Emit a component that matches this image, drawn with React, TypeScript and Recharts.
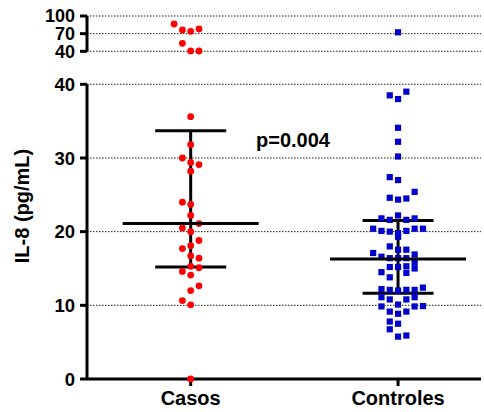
import React from 'react';
import { ScatterChart, Scatter, XAxis, YAxis, CartesianGrid, ErrorBar } from 'recharts';

const categories = ['Casos', 'Controles'];

const casosValues = [
  86.4, 77.9, 76.2, 74.0, 53.6, 40.6, 40.5,
  35.6, 31.8, 30.0, 29.4, 29.1, 28.2, 24.0, 23.7, 22.2, 21.1, 20.5, 20.0,
  18.8, 18.1, 17.7, 16.7, 16.4, 15.3, 15.1, 14.6, 14.1, 12.65, 12.0, 10.65, 10.07, 0,
];
const casosColumns = [
  -2, 1, -1, 0, -1, 0, 1,
  0, 0, -1, 0, 1, 0, -1, 0, 0, 1, -1, 0,
  1, 0, -1, 0, 1, 0, 1, -1, 0, 1, 0, -1, 0, 0,
];

const controlesValues = [
  72.3, 39.0, 38.5, 38.0, 34.1, 32.2, 30.2, 27.4, 27.0, 25.4,
  24.6, 24.35, 24.5, 22.2, 21.8, 21.6, 21.6, 21.8,
  20.4, 20.1, 20.0, 19.8, 20.1, 20.4, 20.4, 19.3,
  18.0, 17.55, 17.55, 17.1, 16.6, 16.4, 16.4, 16.4, 16.9, 15.8, 15.0,
  15.2, 15.2, 15.3, 14.4, 14.5, 13.8,
  12.2, 12.1, 12.0, 12.1, 12.1, 12.4, 11.1, 10.8, 10.8, 11.1,
  10.1, 9.85, 9.85, 9.9, 9.15, 8.85, 9.15, 7.8, 7.5, 6.75, 5.75, 5.9,
];
const controlesColumns = [
  0, 1, -1, 0, 0, 0, 0, -1, 0, 2,
  -1, 0, 1, 0, -2, -1, 1, 2,
  -3, -2, -1, 0, 1, 2, 3, 0,
  -1, 0, 1, -3, -2, -1, 0, 1, 2, 2, 2,
  -1, 0, 1, 1, -2, -1,
  -2, -1, 0, 1, 2, 3, -2, -1, 1, 2,
  0, -2, 2, 3, -1, 0, 1, -1, 0, -1, 0, 1,
];

const medians = [21.1, 16.3];
const lowerQuartiles = [15.2, 11.65];
const upperQuartiles = [33.7, 21.5];

const lowerTicks = [0, 10, 20, 30, 40];
const upperTicks = [40, 70, 100];
const xTicks = [1, 2];

const yAxisTitle = 'IL-8 (pg/mL)';
const pValueLabel = 'p=0.004';

const FONT = '"Liberation Sans", Arial, Helvetica, sans-serif';
const JITTER = 0.04;
const BREAK = 40;

const buildPoints = (vals: number[], cols: number[], catIndex: number) =>
  vals.map((v, i) => ({ x: catIndex + 1 + cols[i] * JITTER, y: v }));

const casosPoints = buildPoints(casosValues, casosColumns, 0);
const controlesPoints = buildPoints(controlesValues, controlesColumns, 1);

const statsData = categories.map((c, i) => ({
  x: i + 1,
  y: medians[i],
  err: [medians[i] - lowerQuartiles[i], upperQuartiles[i] - medians[i]],
}));

const RedDot = (props: any) => (
  <circle cx={props.cx} cy={props.cy} r={3.4} fill="#FF0000" />
);
const BlueSquare = (props: any) => (
  <rect x={props.cx - 3.1} y={props.cy - 3.1} width={6.2} height={6.2} fill="#0000CC" />
);
const MedianLine = (props: any) => (
  <line x1={props.cx - 68} x2={props.cx + 68} y1={props.cy} y2={props.cy} stroke="#000" strokeWidth={3} />
);

const tickStyle = { fill: '#000', fontSize: 18.5, fontWeight: 'bold' as const, fontFamily: FONT };
const axisLineStyle = { stroke: '#000', strokeWidth: 3 };

export default function App() {
  return (
    <div style={{ position: 'absolute', left: 0, top: 0, width: 484, height: 412, background: '#fff', fontFamily: FONT }}>
      <div style={{ position: 'absolute', left: 0, top: 0 }}>
        <ScatterChart width={484} height={412} margin={{ top: 84.3, right: 3, bottom: 0, left: 0 }}>
          <CartesianGrid vertical={false} strokeDasharray="1.5 1.5" stroke="#222" />
          <XAxis
            type="number"
            dataKey="x"
            domain={[0.5, 2.4]}
            ticks={xTicks}
            tickFormatter={(v: number) => categories[v - 1] ?? ''}
            height={33}
            tickSize={7}
            tickMargin={5}
            axisLine={axisLineStyle}
            tickLine={axisLineStyle}
            tick={{ ...tickStyle, fontSize: 20 }}
            interval={0}
          />
          <YAxis
            type="number"
            dataKey="y"
            domain={[0, BREAK]}
            ticks={lowerTicks}
            width={87}
            tickSize={7}
            tickMargin={5}
            axisLine={axisLineStyle}
            tickLine={axisLineStyle}
            tick={tickStyle}
            interval={0}
          />
          <Scatter data={casosPoints.filter((p) => p.y <= BREAK)} shape={RedDot} isAnimationActive={false} />
          <Scatter data={controlesPoints.filter((p) => p.y <= BREAK)} shape={BlueSquare} isAnimationActive={false} />
          <Scatter data={statsData} shape={MedianLine} isAnimationActive={false}>
            <ErrorBar dataKey="err" direction="y" width={35.5} strokeWidth={3} stroke="#000" />
          </Scatter>
        </ScatterChart>
      </div>
      <div style={{ position: 'absolute', left: 0, top: 0 }}>
        <ScatterChart width={484} height={412} margin={{ top: 16, right: 3, bottom: 360.7, left: 0 }}>
          <CartesianGrid vertical={false} strokeDasharray="1.5 1.5" stroke="#222" />
          <XAxis type="number" dataKey="x" domain={[0.5, 2.4]} hide />
          <YAxis
            type="number"
            dataKey="y"
            domain={[BREAK, 100]}
            ticks={upperTicks}
            width={87}
            tickSize={7}
            tickMargin={5}
            axisLine={axisLineStyle}
            tickLine={axisLineStyle}
            tick={{ ...tickStyle, fontSize: 18 }}
            interval={0}
          />
          <Scatter data={casosPoints.filter((p) => p.y > BREAK)} shape={RedDot} isAnimationActive={false} />
          <Scatter data={controlesPoints.filter((p) => p.y > BREAK)} shape={BlueSquare} isAnimationActive={false} />
        </ScatterChart>
      </div>
      <svg width={484} height={412} style={{ position: 'absolute', left: 0, top: 0, pointerEvents: 'none' }}>
        <text
          x={29}
          y={206}
          transform="rotate(-90 29 206)"
          textAnchor="middle"
          fontFamily={FONT}
          fontWeight="bold"
          fontSize={20}
          fill="#000"
        >
          {yAxisTitle}
        </text>
        <text x={256} y={147} fontFamily={FONT} fontWeight="bold" fontSize={20} fill="#000">
          {pValueLabel}
        </text>
      </svg>
    </div>
  );
}
